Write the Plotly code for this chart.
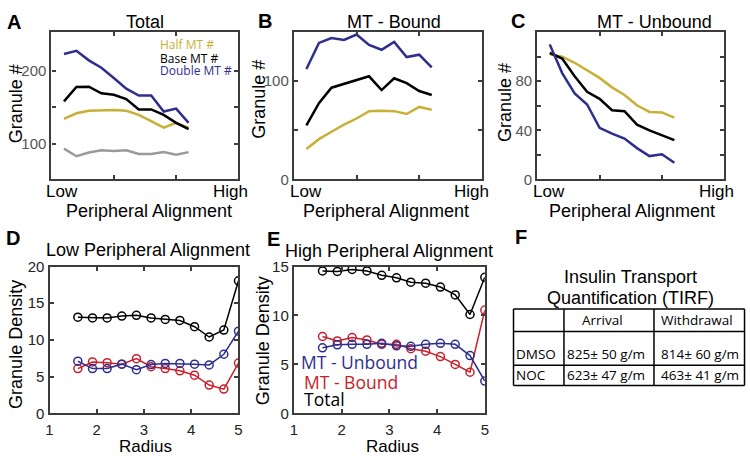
import plotly.graph_objects as go

W, H = 750, 456

# ---------------- data ----------------
bins = [1, 2, 3, 4, 5, 6, 7, 8, 9, 10, 11]

A_half = [134, 141.7, 145, 145.6, 146, 145, 139.5, 131, 122, 128.5, 122]
A_base = [158, 177.6, 178, 169, 167, 161, 147, 147, 139.5, 128.5, 120]
A_double = [222.8, 227, 214, 204, 190, 175.4, 166, 166, 144, 148, 128.5]
A_gray = [93.4, 83, 88, 91, 90, 91, 86, 86, 88.6, 85, 88.6]

B_half = [31, 41, 48.5, 55.7, 62, 69.5, 70, 69.5, 66.6, 73.8, 71]
B_base = [55, 77.7, 93.4, 97.4, 101, 105, 91, 103, 98, 90, 86]
B_double = [112.5, 139, 144, 142, 147.5, 137, 132, 140, 124.6, 127, 114]

C_half = [102, 100, 95, 88.5, 82.7, 75, 68.8, 60.4, 55, 54.6, 50.4]
C_base = [103, 98.4, 84, 71.4, 65.6, 56.4, 55.6, 44.6, 40, 36, 32]
C_double = [110, 86.6, 70, 61, 42, 37.3, 33.3, 25.5, 19, 20.5, 13.6]

radius = [1.6, 1.91, 2.22, 2.53, 2.84, 3.15, 3.45, 3.76, 4.07, 4.38, 4.69, 5.0]
D_total = [13.1, 13.0, 13.0, 13.25, 13.35, 13.0, 12.8, 12.65, 11.8, 10.4, 11.35, 18.05]
D_unbound = [7.1, 6.1, 6.1, 6.7, 5.95, 6.65, 6.8, 6.8, 6.7, 6.6, 8.05, 11.2]
D_bound = [6.1, 7.0, 6.9, 6.7, 7.45, 6.35, 6.1, 5.8, 5.2, 3.85, 3.3, 6.85]
E_total = [14.55, 14.5, 14.7, 14.55, 14.1, 13.85, 13.4, 13.3, 12.9, 12.1, 10.1, 13.9]
E_bound = [7.85, 7.4, 7.75, 7.5, 7.05, 7.05, 6.6, 6.35, 5.8, 5.0, 4.2, 10.55]
E_unbound = [6.7, 7.0, 7.05, 7.05, 7.15, 6.9, 6.85, 7.05, 7.15, 7.05, 5.9, 3.3]

table_header = ["Arrival", "Withdrawal"]
table_rows = ["DMSO", "NOC"]
table_vals = [["825\u00b1 50 g/m", "814\u00b1 60 g/m"],
              ["623\u00b1 47 g/m", "463\u00b1 41 g/m"]]

# ---------------- styles ----------------
YEL = "#c8b036"
BLU = "#2e2e8e"
RED = "#c8202a"
GRY = "#9a9a9a"
BLK = "#000000"
FRAME = "#3c3c3c"
FONT = "Liberation Sans, Arial, sans-serif"
SANS2 = "Open Sans, Noto Sans, sans-serif"


def px(x):
    return x / W


def py(y):
    return 1 - y / H


fig = go.Figure()

panels = {
    "A": dict(x=(48, 237), y=(24, 177)),
    "B": dict(x=(293, 483), y=(24, 177)),
    "C": dict(x=(539, 728), y=(24, 177)),
    "D": dict(x=(46, 237), y=(267.5, 420)),
    "E": dict(x=(293, 486), y=(267.5, 420)),
}
axis_ids = {"A": ("x", "y"), "B": ("x2", "y2"), "C": ("x3", "y3"),
            "D": ("x4", "y4"), "E": ("x5", "y5")}


def line(panel, xs, ys, color, width=2.5):
    xa, ya = axis_ids[panel]
    fig.add_trace(go.Scatter(x=xs, y=ys, mode="lines", xaxis=xa, yaxis=ya,
                             line=dict(color=color, width=width),
                             showlegend=False, hoverinfo="skip"))


def circ(panel, xs, ys, color):
    xa, ya = axis_ids[panel]
    fig.add_trace(go.Scatter(x=xs, y=ys, mode="lines+markers", xaxis=xa, yaxis=ya,
                             line=dict(color=color, width=1.5),
                             marker=dict(symbol="circle-open", size=8, color=color,
                                         line=dict(width=1.5, color=color)),
                             showlegend=False, hoverinfo="skip"))


line("A", bins, A_gray, GRY)
line("A", bins, A_half, YEL)
line("A", bins, A_base, BLK)
line("A", bins, A_double, BLU)

line("B", bins, B_half, YEL)
line("B", bins, B_base, BLK)
line("B", bins, B_double, BLU)

line("C", bins, C_half, YEL)
line("C", bins, C_base, BLK)
line("C", bins, C_double, BLU)

circ("D", radius, D_bound, RED)
circ("D", radius, D_unbound, BLU)
circ("D", radius, D_total, BLK)

circ("E", radius, E_bound, RED)
circ("E", radius, E_unbound, BLU)
circ("E", radius, E_total, BLK)

common = dict(showline=True, mirror="allticks", linewidth=2.2, linecolor=FRAME,
              ticks="inside", ticklen=4, tickwidth=1.5, tickcolor=FRAME,
              showgrid=False, zeroline=False, fixedrange=True)

yranges = {"A": [51.3, 252.6], "B": [0, 150], "C": [0, 120], "D": [0, 20], "E": [0, 15]}
yticks = {
    "A": ([100, 150, 200], ["100", "", "200"]),
    "B": ([0, 50, 100, 150], ["0", "", "100", ""]),
    "C": ([0, 20, 40, 60, 80, 100, 120], ["0", "", "40", "", "80", "", ""]),
    "D": ([0, 5, 10, 15, 20], ["0", "5", "10", "15", "20"]),
    "E": ([0, 5, 10, 15], ["0", "5", "10", "15"]),
}

layout_axes = {}
for i, p in enumerate(["A", "B", "C", "D", "E"]):
    n = "" if i == 0 else str(i + 1)
    dx = panels[p]["x"]
    dy = panels[p]["y"]
    if p in ("A", "B", "C"):
        xax = dict(common, domain=[px(dx[0]), px(dx[1])], range=[0, 15],
                   tickvals=[5, 10], ticktext=["", ""], anchor="y" + n)
        tcol = "#555555"
    else:
        xax = dict(common, domain=[px(dx[0]), px(dx[1])], range=[1, 5],
                   tickvals=[1, 2, 3, 4, 5], ticktext=["1", "2", "3", "4", "5"],
                   tickfont=dict(family=FONT, size=15, color="#222"),
                   ticklabelstandoff=2, anchor="y" + n)
        tcol = "#222222"
    yax = dict(common, domain=[py(dy[1]), py(dy[0])], range=yranges[p],
               tickvals=yticks[p][0], ticktext=yticks[p][1],
               tickfont=dict(family=FONT, size=15, color=tcol), anchor="x" + n)
    layout_axes["xaxis" + n] = xax
    layout_axes["yaxis" + n] = yax

fig.update_layout(**layout_axes)

ann = []


def text(x, y, s, size=17, color=BLK, xanchor="center", family=FONT, bold=False,
         angle=0, yanchor="middle"):
    if bold:
        s = "<b>" + s + "</b>"
    ann.append(dict(x=px(x), y=py(y), xref="paper", yref="paper", text=s,
                    showarrow=False, xanchor=xanchor, yanchor=yanchor,
                    textangle=angle, borderpad=0,
                    font=dict(family=family, size=size, color=color)))


# panel letters
for L, (x, y) in {"A": (10, 13), "B": (264, 12), "C": (520, 12),
                  "D": (9, 238), "E": (272, 239), "F": (523, 237)}.items():
    text(x, y, L, size=20, bold=True)

# titles
text(143, 13, "Total", 18)
text(394, 13, "MT - Bound", 18)
text(658, 13, "MT - Unbound", 18)
text(146, 250, "Low Peripheral Alignment", 18)
text(389, 251, "High Peripheral Alignment", 18)

# x labels A-C
for lo, hi, cx in [(59, 229, 147), (305, 473, 386), (551, 720, 635)]:
    text(lo, 190, "Low", 17)
    text(hi, 190, "High", 17)
    text(cx, 210, "Peripheral Alignment", 18)

# y labels
text(12, 98, "Granule #", 18, angle=-90)
text(258, 94, "Granule #", 18, angle=-90)
text(507, 97, "Granule #", 18, angle=-90)
text(12, 348, "Granule Density", 18, angle=-90)
text(262, 345, "Granule Density", 18, angle=-90)
text(143, 454, "Radius", 17, yanchor="middle")
text(393, 454, "Radius", 17, yanchor="middle")

# legend A
text(157, 37, "Half MT #", 12, YEL, "left", SANS2)
text(157, 51, "Base MT #", 12, BLK, "left", SANS2)
text(157, 64, "Double MT #", 12, BLU, "left", SANS2)

# legend E
text(299, 367, "MT - Unbound", 17.5, BLU, "left", SANS2)
text(302, 387, "MT - Bound", 17.5, RED, "left", SANS2)
text(302, 405, "Total", 17.5, BLK, "left", SANS2)

# table F
text(633, 278, "Insulin Transport", 18)
text(633, 300, "Quantification (TIRF)", 18)
text(605, 323, table_header[0], 13.5, BLK, "center", SANS2)
text(663, 323, table_header[1], 13.5, BLK, "left", SANS2)
row_y = [358, 380]
for r, name in enumerate(table_rows):
    text(517, row_y[r], name, 13.5, BLK, "left", SANS2)
    text(568, row_y[r], table_vals[r][0], 13.5, BLK, "left", SANS2)
    text(663, row_y[r], table_vals[r][1], 13.5, BLK, "left", SANS2)

shapes = []
tl, tr, tt, tb = 515, 748.5, 311.5, 391
for yy in [tt, 335, 370, tb]:
    shapes.append(dict(type="line", xref="paper", yref="paper",
                       x0=px(tl), x1=px(tr), y0=py(yy), y1=py(yy),
                       line=dict(color=BLK, width=1.5)))
for xx in [tl, 566, 657, tr]:
    shapes.append(dict(type="line", xref="paper", yref="paper",
                       x0=px(xx), x1=px(xx), y0=py(tt), y1=py(tb),
                       line=dict(color=BLK, width=1.5)))

fig.update_layout(width=W, height=H, autosize=False,
                  margin=dict(l=0, r=0, t=0, b=0),
                  paper_bgcolor="white", plot_bgcolor="white",
                  annotations=ann, shapes=shapes,
                  font=dict(family=FONT, color=BLK))

fig.write_html("out.html", config={"displayModeBar": False},
               post_script="document.body.style.margin='0px';document.body.style.overflow='hidden';")
